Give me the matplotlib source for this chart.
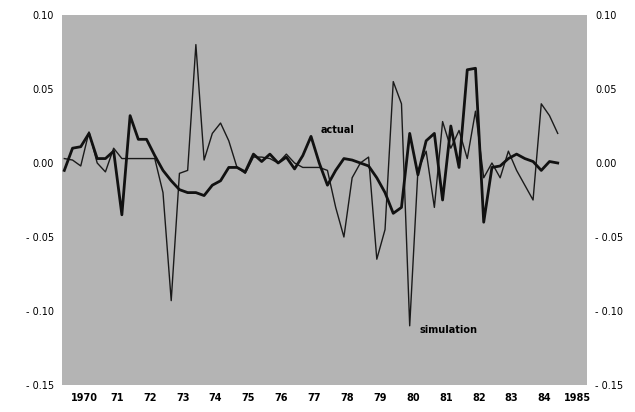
import matplotlib
matplotlib.use("Agg")
import matplotlib.pyplot as plt
import numpy as np

actual = [-0.005,0.01,0.011,0.02,0.003,0.003,0.008,-0.035,0.032,0.016,0.016,0.005,-0.005,-0.012,-0.018,-0.02,
          -0.02,-0.022,-0.015,-0.012,-0.003,-0.003,-0.006,0.006,0.001,0.006,0.0,0.004,-0.004,0.005,0.018,0.0,
          -0.015,-0.005,0.003,0.002,0.0,-0.002,-0.01,-0.02,-0.034,-0.03,0.02,-0.008,0.015,0.02,-0.025,0.025,
          -0.003,0.063,0.064,-0.04,-0.003,-0.002,0.003,0.006,0.003,0.001,-0.005,0.001,0.0]
simulation = [0.003,0.002,-0.002,0.021,0.0,-0.006,0.01,0.003,0.003,0.003,0.003,0.003,-0.02,-0.093,-0.007,-0.005,
              0.08,0.002,0.02,0.027,0.015,-0.003,-0.007,0.004,0.004,0.003,0.0,0.006,0.0,-0.003,-0.003,-0.003,
              -0.005,-0.03,-0.05,-0.01,0.0,0.004,-0.065,-0.045,0.055,0.04,-0.11,-0.005,0.008,-0.03,0.028,0.01,
              0.022,0.003,0.035,-0.01,0.0,-0.01,0.008,-0.005,-0.015,-0.025,0.04,0.032,0.02]
years = 1969.4 + 0.25*np.arange(len(actual))
xticks = list(range(1970, 1986))
xlabels = ["1970"] + [f"{y%100:02d}" for y in range(1971, 1985)] + ["1985"]
yticks = [0.10, 0.05, 0.00, -0.05, -0.10, -0.15]
ylabels = ["0.10", "0.05", "0.00", "- 0.05", "- 0.10", "- 0.15"]

fig = plt.figure(figsize=(6.35, 4.12), dpi=100)
ax = fig.add_axes([62/635, 1-385/412, 525/635, 370/412])
ax.set_facecolor("#b4b4b4")
ax.plot(years, simulation, color="#1a1a1a", lw=1.0)
ax.plot(years, actual, color="#111111", lw=2.0)
ax.set_xlim(1969.33, 1985.29)
ax.set_ylim(-0.15, 0.10)
ax.set_xticks(xticks)
ax.set_xticklabels(xlabels, fontsize=7, fontweight="bold")
ax.set_yticks(yticks)
ax.set_yticklabels(ylabels, fontsize=7)
ax.tick_params(length=0, pad=6, labelright=True)
for s in ax.spines.values():
    s.set_visible(False)
ax.text(1977.2, 0.019, "actual", fontsize=7, fontweight="bold", ha="left", va="bottom")
ax.text(1980.2, -0.113, "simulation", fontsize=7, fontweight="bold", ha="left", va="center")
fig.savefig("out.png", dpi=100)
